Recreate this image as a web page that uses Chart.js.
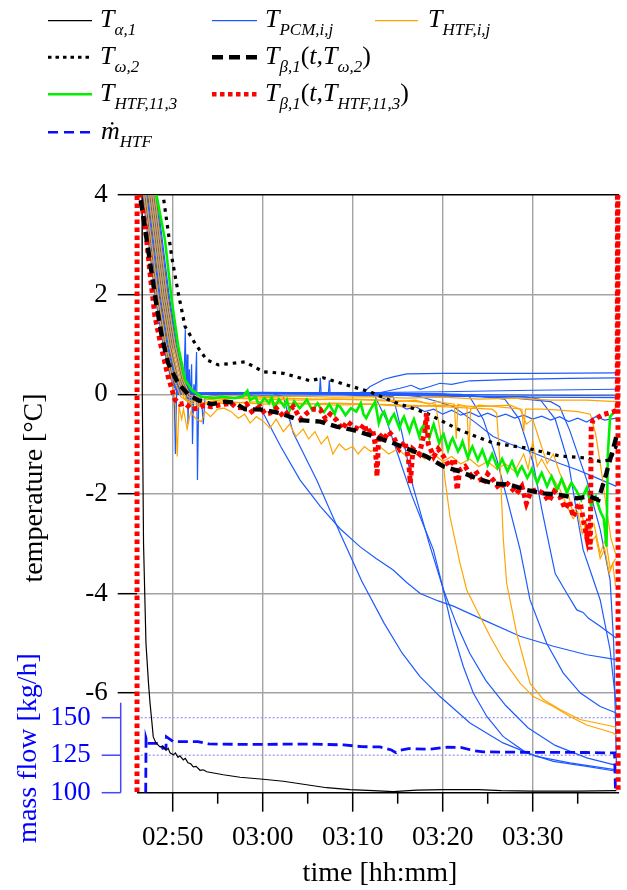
<!DOCTYPE html>
<html>
<head>
<meta charset="utf-8">
<script src="https://cdn.jsdelivr.net/npm/chart.js@4.4.1/dist/chart.umd.min.js"></script>
<style>
  html, body { margin: 0; padding: 0; background: #fff; }
  #wrap { position: relative; width: 627px; height: 890px; overflow: hidden; }
  #chart { position: absolute; left: 0; top: 0; }
  #legend { position: absolute; left: 0; top: 0; }
  #legend text { font-family: "Liberation Serif", serif; font-size: 26px; font-style: italic; fill: #000; }
</style>
</head>
<body>
<div id="wrap">
  <canvas id="chart" width="627" height="890"></canvas>
  <svg id="legend" width="627" height="160" xmlns="http://www.w3.org/2000/svg">
    <line x1="48" y1="20.7" x2="92" y2="20.7" stroke="#000" stroke-width="1.2"/>
    <line x1="48" y1="57.3" x2="92" y2="57.3" stroke="#000" stroke-width="3" stroke-dasharray="3.5 4"/>
    <line x1="48" y1="94.3" x2="92" y2="94.3" stroke="#00f000" stroke-width="2.5"/>
    <line x1="48" y1="132.3" x2="92" y2="132.3" stroke="#0a0aff" stroke-width="2.6" stroke-dasharray="10 6"/>
    <line x1="212" y1="20.7" x2="257" y2="20.7" stroke="#1e5bff" stroke-width="1.2"/>
    <line x1="212" y1="57.3" x2="257" y2="57.3" stroke="#000" stroke-width="4.4" stroke-dasharray="11 6"/>
    <line x1="212" y1="94.3" x2="257" y2="94.3" stroke="#ff0000" stroke-width="4.6" stroke-dasharray="4.5 3.5"/>
    <line x1="375" y1="20.7" x2="418" y2="20.7" stroke="#ffa500" stroke-width="1.2"/>

    <text x="100" y="27">T<tspan dy="8" font-size="17">α,1</tspan></text>
    <text x="100" y="64">T<tspan dy="8" font-size="17">ω,2</tspan></text>
    <text x="100" y="101">T<tspan dy="8" font-size="17">HTF,11,3</tspan></text>
    <text x="101" y="139">ṁ<tspan dy="8" font-size="17">HTF</tspan></text>
    <text x="265" y="27">T<tspan dy="8" font-size="17">PCM,i,j</tspan></text>
    <text x="265" y="64">T<tspan dy="8" font-size="17">β,1</tspan><tspan dy="-8" font-style="normal">(</tspan>t,T<tspan dy="8" font-size="17">ω,2</tspan><tspan dy="-8" font-style="normal">)</tspan></text>
    <text x="265" y="101">T<tspan dy="8" font-size="17">β,1</tspan><tspan dy="-8" font-style="normal">(</tspan>t,T<tspan dy="8" font-size="17">HTF,11,3</tspan><tspan dy="-8" font-style="normal">)</tspan></text>
    <text x="428" y="27">T<tspan dy="8" font-size="17">HTF,i,j</tspan></text>
  </svg>
</div>
<script>
// time in minutes after midnight (170 = 02:50), values in °C or kg/h
const xTicks = [170, 180, 190, 200, 210];
const xMinorTicks = [175, 185, 195, 205, 215];
const yTicks = [-8, -6, -4, -2, 0, 2, 4];
const flowTicks = [100, 125, 150];
const flowGuides = [125, 150];
const flowAxisTop = 160;

const tAlpha1 = [
  [166.55, 5.0], [166.59, 4.0], [166.62, 0.0], [166.76, -3.0], [167.03, -5.0], [167.31, -5.8],
  [167.48, -6.2], [167.67, -6.55], [167.84, -6.88], [168.14, -7.0], [168.59, -7.08], [168.9, -7.06],
  [169.26, -7.15], [169.5, -7.11], [169.7, -7.2], [170.07, -7.24], [170.3, -7.2], [170.59, -7.29],
  [170.8, -7.26], [171.18, -7.34], [171.4, -7.31], [171.7, -7.4], [172.0, -7.42], [172.29, -7.48],
  [172.6, -7.47], [173.03, -7.55], [173.4, -7.54], [173.78, -7.58], [174.7, -7.61], [175.62, -7.64],
  [177.48, -7.69], [180.07, -7.73], [182.29, -7.77], [184.89, -7.84], [187.11, -7.9], [189.7, -7.94],
  [192.29, -7.96], [194.51, -7.98], [197.11, -7.95], [200.0, -7.94], [204.0, -7.94], [206.5, -7.96],
  [210.0, -7.97], [215.0, -7.97], [219.3, -7.96]
];

const massFlow = [
  [167.0, 100], [167.04, 136.3], [167.2, 132.9], [168.5, 132.9], [168.9, 129.6], [169.25, 129.8],
  [169.3, 137.3], [170.1, 134.0], [172.8, 134.0], [174.0, 132.5], [178.0, 132.2], [185.0, 132.4],
  [189.0, 131.9], [191.0, 130.7], [193.0, 130.5], [194.3, 128.5], [194.8, 126.7], [195.3, 128.3],
  [196.2, 129.4], [198.5, 129.0], [200.5, 130.3], [202.0, 130.2], [203.5, 128.0], [204.5, 127.2],
  [210.0, 126.9], [216.0, 126.8], [219.1, 126.5], [219.2, 100]
];

const tOmega2 = [
  [166.3, 9.0], [168.93, 4.0], [169.89, 2.76], [170.62, 2.03], [171.37, 1.36], [172.48, 1.02],
  [173.78, 0.69], [175.07, 0.59], [176.56, 0.62], [178.03, 0.65], [180.1, 0.45], [182.3, 0.42],
  [185.3, 0.27], [186.7, 0.33], [190.0, 0.15], [191.9, 0.05], [194.5, -0.15], [198.2, -0.38],
  [201.9, -0.72], [205.6, -0.98], [209.3, -1.08], [213.0, -1.24], [216.0, -1.28], [217.5, -1.35],
  [218.6, -1.32], [219.4, -1.0]
];

const tBetaOmega = [
  [166.1, 5.5], [166.37, 4.0], [167.36, 2.8], [168.1, 1.9], [168.8, 1.15], [169.5, 0.62],
  [170.6, 0.22], [171.7, 0.0], [172.8, -0.12], [174.3, -0.2], [175.8, -0.15], [176.9, -0.17],
  [178.0, -0.3], [180.1, -0.31], [181.9, -0.38], [184.1, -0.52], [186.4, -0.55], [188.2, -0.65],
  [190.1, -0.72], [191.9, -0.82], [194.5, -0.98], [198.2, -1.25], [200.1, -1.45], [201.9, -1.55],
  [203.8, -1.69], [205.6, -1.79], [207.5, -1.82], [209.3, -1.92], [211.2, -1.99], [213.0, -2.02],
  [214.9, -2.09], [216.3, -2.05], [217.3, -2.12], [218.2, -1.58], [219.3, -0.85]
];

const tBetaHtf = [
  [166.03, -12], [166.05, 12], [166.2, 6.0], [166.37, 4.0], [166.92, 3.43], [167.48, 2.43],
  [168.03, 1.56], [168.8, 0.89], [169.5, 0.35], [170.26, -0.11], [170.8, -0.2], [171.37, -0.18],
  [172.1, -0.3], [172.84, -0.28], [173.5, -0.22], [174.3, -0.25], [175.4, -0.21], [176.5, -0.18],
  [177.0, -0.26], [177.6, -0.27], [178.2, -0.2], [178.8, -0.35], [179.7, -0.25], [180.3, -0.4],
  [180.8, -0.38], [181.5, -0.28], [182.3, -0.45], [183.4, -0.25], [184.2, -0.5], [184.9, -0.38],
  [185.6, -0.3], [186.4, -0.31], [187.0, -0.5], [187.5, -0.4], [188.2, -0.52], [188.8, -0.7],
  [189.4, -0.55], [190.1, -0.65], [190.8, -0.72], [191.3, -0.6], [191.6, -0.78], [192.2, -0.7],
  [192.5, -1.0], [192.7, -1.65], [192.9, -0.8], [193.5, -0.9], [194.0, -0.75], [194.5, -0.85],
  [195.2, -1.1], [195.8, -0.95], [196.2, -1.3], [196.4, -1.79], [196.7, -1.1], [197.4, -1.2],
  [198.0, -0.75], [198.2, -0.38], [198.4, -1.0], [199.0, -1.25], [199.5, -1.1], [200.1, -1.25],
  [200.7, -1.45], [201.3, -1.3], [201.6, -1.92], [201.9, -1.52], [202.5, -1.45], [203.2, -1.65],
  [203.8, -1.58], [204.5, -1.8], [205.0, -1.6], [205.6, -1.72], [206.3, -1.9], [206.9, -1.75],
  [207.5, -1.85], [208.2, -2.0], [208.8, -1.85], [209.3, -2.19], [209.8, -1.95], [210.4, -1.92],
  [211.2, -1.99], [211.8, -2.15], [212.4, -1.95], [213.0, -2.05], [213.6, -2.3], [214.1, -2.15],
  [214.5, -2.46], [215.0, -2.25], [215.3, -2.19], [215.7, -2.6], [216.0, -2.86], [216.2, -2.5],
  [216.4, -3.12], [216.5, -0.65], [216.7, -0.52], [217.8, -0.41], [219.0, -0.35], [219.4, -0.32],
  [219.45, 12], [219.5, -12]
];

const tHtf113 = [
  [167.9, 5.5], [168.2, 4.0], [169.14, 3.1], [169.89, 1.89], [170.62, 0.96], [171.37, 0.29],
  [172.1, 0.09], [173.2, -0.05], [174.5, -0.08], [175.5, -0.05], [176.9, -0.08], [177.8, -0.04],
  [178.3, 0.07], [178.6, -0.12], [179.2, -0.05], [179.6, -0.22], [180.2, -0.08], [180.7, -0.18],
  [181.0, -0.06], [181.3, -0.28], [181.8, -0.1], [182.4, -0.25], [182.7, -0.12], [183.0, -0.32],
  [183.5, -0.14], [184.1, -0.28], [184.5, -0.2], [184.9, -0.11], [185.5, -0.32], [186.1, -0.18],
  [186.5, -0.3], [186.8, -0.36], [187.4, -0.2], [188.0, -0.4], [188.3, -0.22], [188.6, -0.25],
  [189.2, -0.42], [189.8, -0.28], [190.4, -0.35], [190.9, -0.18], [191.2, -0.4], [191.5, -0.48],
  [192.0, -0.3], [192.5, -0.15], [192.9, -0.58], [193.2, -0.42], [193.5, -0.35], [194.0, -0.6],
  [194.3, -0.48], [194.6, -0.4], [195.2, -0.68], [195.5, -0.52], [195.7, -0.45], [196.3, -0.75],
  [196.6, -0.58], [196.8, -0.5], [197.4, -0.85], [197.6, -0.7], [197.9, -0.62], [198.5, -0.88],
  [198.8, -0.7], [199.0, -0.6], [199.6, -0.98], [199.9, -0.85], [200.1, -0.8], [200.6, -1.12],
  [200.9, -0.95], [201.1, -0.88], [201.7, -1.15], [202.0, -1.05], [202.2, -0.95], [202.8, -1.28],
  [203.1, -1.12], [203.3, -1.05], [203.9, -1.32], [204.2, -1.2], [204.4, -1.12], [205.0, -1.42],
  [205.3, -1.28], [205.5, -1.2], [206.1, -1.48], [206.4, -1.38], [206.6, -1.3], [207.2, -1.55],
  [207.5, -1.42], [207.7, -1.35], [208.3, -1.62], [208.6, -1.5], [208.8, -1.45], [209.4, -1.68],
  [209.7, -1.58], [209.9, -1.5], [210.5, -1.78], [210.8, -1.65], [211.0, -1.58], [211.6, -1.85],
  [211.9, -1.72], [212.1, -1.65], [212.7, -1.92], [213.0, -1.8], [213.2, -1.7], [213.8, -1.98],
  [214.1, -1.85], [214.3, -1.78], [214.9, -1.95], [215.4, -2.12], [215.7, -2.0], [216.0, -1.88],
  [216.5, -2.25], [216.8, -2.1], [217.0, -2.05], [217.5, -2.35], [217.9, -2.5], [218.2, -3.06],
  [218.35, -1.2], [218.6, -0.45], [219.3, -0.31]
];

// T_HTF,i,j (orange)
const htf1 = [
  [166.59, 4.3], [168.14, 2.0], [169.03, 1.0], [169.92, 0.3], [170.3, -0.15], [170.5, -1.25],
  [170.7, -0.25], [171.0, -0.5], [171.2, -0.3], [171.6, -0.7], [172.0, -0.35], [172.6, -0.5],
  [173.2, -0.55], [173.6, -0.35], [174.2, -0.45], [175.0, -0.3], [175.7, -0.28], [176.5, -0.35],
  [177.3, -0.48], [178.0, -0.4], [178.6, -0.58], [179.3, -0.45], [180.1, -0.55], [180.8, -0.68],
  [181.5, -0.5], [182.3, -0.75], [183.0, -0.6], [183.7, -0.85], [184.5, -0.7], [185.1, -0.9],
  [185.8, -0.75], [186.5, -1.0], [187.2, -0.85], [187.8, -1.2], [188.5, -1.0], [189.2, -1.12],
  [190.0, -1.05], [190.6, -1.2], [191.3, -1.05], [192.0, -1.15], [193.0, -1.05], [194.0, -1.2],
  [195.0, -1.1], [196.0, -1.25], [197.0, -1.15], [198.0, -1.3], [199.0, -1.2], [200.0, -1.35],
  [201.0, -1.25], [202.0, -1.4], [203.0, -1.3], [204.0, -1.45], [205.0, -1.35], [206.0, -1.5],
  [207.0, -1.4], [208.0, -1.55], [209.0, -1.2], [209.5, -1.5], [210.0, -0.95], [210.5, -1.45],
  [211.0, -1.3], [211.6, -1.5], [212.3, -1.7], [213.0, -1.9], [213.7, -2.2], [214.5, -2.5],
  [215.0, -2.35], [215.5, -2.8], [216.0, -2.6], [216.4, -3.0], [217.0, -2.85], [217.5, -3.3],
  [218.0, -3.1], [218.5, -3.6], [218.9, -3.4], [219.2, -3.85]
];
const htf2 = [
  [166.81, 4.3], [168.37, 2.0], [169.26, 1.0], [170.14, 0.3], [170.9, -0.05], [171.8, -0.15],
  [172.8, -0.22], [174.0, -0.15], [176.0, -0.1], [178.3, -0.05], [182.0, -0.08], [186.0, -0.1],
  [190.0, -0.1], [194.0, -0.12], [197.0, -0.15], [199.2, -0.2], [199.7, -0.72], [200.26, -1.72],
  [200.81, -2.46], [201.92, -3.39], [202.67, -3.93], [203.78, -4.33], [205.26, -4.86], [206.73, -5.33],
  [208.59, -5.8], [210.07, -6.07], [212.29, -6.27], [214.14, -6.47], [216.0, -6.64], [218.96, -6.8],
  [219.3, -6.85]
];
const htf3 = [
  [167.14, 4.3], [168.70, 2.0], [169.59, 1.0], [170.48, 0.3], [171.3, -0.1], [172.5, -0.28],
  [173.5, -0.2], [176.0, -0.18], [180.0, -0.15], [184.0, -0.2], [188.0, -0.18], [192.0, -0.2],
  [196.0, -0.22], [200.0, -0.25], [203.0, -0.28], [205.5, -0.3], [206.0, -0.38], [206.37, -1.39],
  [206.73, -2.9], [207.11, -3.8], [208.22, -4.8], [209.7, -5.8], [211.18, -6.13], [213.03, -6.33],
  [215.26, -6.53], [218.96, -6.67], [219.3, -6.7]
];
const htf4 = [
  [167.37, 4.3], [168.92, 2.0], [169.81, 1.0], [170.70, 0.3], [171.5, -0.1], [173.0, -0.18],
  [176.0, -0.15], [180.0, -0.2], [184.0, -0.18], [188.0, -0.22], [192.0, -0.2], [196.0, -0.25],
  [200.0, -0.22], [204.0, -0.25], [207.5, -0.22], [208.6, -0.3], [209.3, -0.6], [210.0, -0.5],
  [210.8, -0.95], [211.6, -1.39], [212.3, -1.2], [213.0, -1.58], [213.8, -1.9], [214.5, -2.4],
  [215.2, -2.2], [216.0, -2.85], [216.8, -2.6], [217.5, -3.2], [218.1, -2.9], [218.6, -3.5],
  [219.2, -3.3]
];
const htf5 = [
  [167.59, 4.3], [169.14, 2.0], [170.03, 1.0], [170.92, 0.3], [171.7, -0.05], [173.0, -0.12],
  [176.0, -0.08], [180.0, -0.1], [184.0, -0.12], [188.0, -0.1], [192.0, -0.12], [195.0, -0.15],
  [197.0, -0.12], [198.5, -0.2], [199.3, -0.15], [201.3, -0.2], [201.5, -0.9], [201.7, -0.2],
  [202.7, -0.25], [202.9, -1.2], [203.1, -0.3], [204.0, -0.22], [206.0, -0.25], [208.8, -0.3],
  [209.0, -0.75], [209.2, -0.3], [211.0, -0.3], [213.0, -0.32], [215.0, -0.35], [216.4, -0.4],
  [217.0, -0.8], [217.6, -1.5], [218.2, -2.3], [218.7, -2.9], [219.2, -3.2]
];
const htf6 = [
  [167.81, 4.3], [169.37, 2.0], [170.26, 1.0], [171.14, 0.3], [171.9, -0.02], [173.0, -0.05],
  [176.0, -0.03], [180.0, -0.05], [184.0, -0.04], [188.0, -0.06], [192.0, -0.05], [196.0, -0.08],
  [200.0, -0.06], [204.0, -0.1], [208.0, -0.08], [212.0, -0.12], [216.0, -0.12], [219.3, -0.15]
];

// T_PCM,i,j (blue)
const pcm1 = [
  [166.48, 4.3], [168.03, 2.0], [168.92, 1.0], [169.81, 0.3], [170.59, 0.0], [172.0, 0.03],
  [175.0, 0.02], [178.0, 0.03], [179.1, -0.05], [180.07, -0.38], [182.0, -1.05], [184.14, -1.72],
  [186.4, -2.25], [188.6, -2.7], [190.8, -3.06], [192.6, -3.3], [194.5, -3.53], [196.0, -3.78],
  [197.5, -4.0], [199.5, -4.15], [201.25, -4.26], [204.9, -4.56], [208.6, -4.86], [212.3, -5.06],
  [216.0, -5.23], [219.3, -5.33]
];
const pcm2 = [
  [166.70, 4.3], [168.26, 2.0], [169.14, 1.0], [170.03, 0.3], [170.81, 0.0], [173.0, 0.03],
  [177.0, 0.02], [181.0, 0.02], [182.3, -0.05], [183.4, -0.78], [186.0, -1.72], [188.5, -2.75],
  [191.0, -3.75], [193.5, -4.6], [195.5, -5.2], [197.48, -5.67], [199.7, -6.07], [203.03, -6.6],
  [206.7, -7.0], [210.4, -7.27], [214.14, -7.4], [219.3, -7.54]
];
const pcm3 = [
  [166.92, 4.3], [168.48, 2.0], [169.37, 1.0], [170.26, 0.3], [171.03, 0.0], [174.0, 0.03],
  [180.0, 0.04], [186.0, 0.03], [192.5, -0.05], [193.7, -0.5], [195.0, -1.2], [196.5, -2.0],
  [197.8, -2.6], [198.96, -3.12], [199.9, -3.8], [201.18, -4.8], [202.3, -5.47], [203.4, -6.0],
  [204.9, -6.47], [206.7, -6.87], [209.3, -7.2], [212.3, -7.37], [216.0, -7.47], [219.3, -7.57]
];
const pcm4 = [
  [167.14, 4.3], [168.70, 2.0], [169.59, 1.0], [170.48, 0.3], [171.26, 0.0], [175.0, 0.02],
  [182.0, 0.03], [189.0, 0.02], [194.5, -0.05], [195.5, -0.8], [196.7, -1.85], [198.5, -3.0],
  [200.1, -3.93], [201.5, -4.6], [203.0, -5.2], [204.8, -5.75], [207.0, -6.25], [209.5, -6.7],
  [212.5, -7.05], [216.0, -7.3], [219.3, -7.45]
];
const pcm5 = [
  [167.37, 4.3], [168.92, 2.0], [169.81, 1.0], [170.70, 0.3], [171.48, 0.0], [176.0, 0.03],
  [184.0, 0.02], [192.0, 0.03], [200.0, 0.01], [203.0, -0.05], [204.5, -0.5], [206.0, -1.3],
  [207.3, -2.2], [208.6, -3.12], [209.7, -4.13], [211.55, -5.0], [213.4, -5.6], [215.3, -6.0],
  [217.5, -6.27], [219.3, -6.4]
];
const pcm6 = [
  [167.59, 4.3], [169.14, 2.0], [170.03, 1.0], [170.92, 0.3], [171.70, 0.0], [178.0, 0.02],
  [186.0, 0.03], [194.0, 0.02], [202.0, 0.0], [206.9, -0.1], [208.5, -0.5], [210.07, -1.39],
  [211.0, -2.3], [211.8, -3.0], [212.5, -3.6], [213.8, -4.0], [214.9, -4.33], [215.6, -4.38],
  [216.2, -4.5], [217.5, -4.66], [219.3, -4.9]
];
const pcm7 = [
  [167.81, 4.3], [169.37, 2.0], [170.26, 1.0], [171.14, 0.3], [171.92, 0.0], [180.0, 0.02],
  [190.0, 0.01], [200.0, -0.02], [208.0, -0.08], [212.0, -0.15], [213.0, -0.25], [214.1, -0.72],
  [216.0, -1.72], [217.5, -2.72], [218.6, -3.73], [219.0, -5.0], [219.3, -7.4]
];
const pcm8 = [
  [168.03, 4.3], [169.59, 2.0], [170.48, 1.0], [171.37, 0.3], [172.14, 0.0], [182.0, 0.02],
  [192.0, 0.0], [202.0, -0.03], [209.0, -0.05], [210.8, -0.1], [212.5, -0.5], [214.0, -1.4],
  [215.0, -2.5], [215.6, -3.12], [216.5, -3.6], [217.5, -4.13], [218.6, -5.13], [219.3, -6.3]
];
const pcm9 = [
  [166.59, 4.3], [168.14, 2.0], [169.03, 1.0], [169.92, 0.3], [170.70, 0.0], [175.0, 0.03],
  [185.0, 0.02], [195.0, 0.0], [197.5, -0.05], [199.5, -0.15], [201.2, -0.25], [203.5, -0.55],
  [205.6, -0.85], [207.5, -1.0], [209.3, -1.12], [211.2, -1.26], [213.0, -1.39], [215.0, -1.52],
  [216.7, -1.65], [219.3, -1.85]
];
const pcm10 = [
  [166.81, 4.3], [168.37, 2.0], [169.26, 1.0], [170.14, 0.3], [170.92, 0.0], [175.0, 0.02],
  [182.0, 0.03], [189.0, 0.01], [193.0, -0.05], [195.0, -0.2], [196.0, -0.3], [197.0, -0.25],
  [198.0, -0.35], [199.0, -0.3], [200.0, -0.4], [201.0, -0.32], [202.0, -0.42], [203.0, -0.36],
  [204.0, -0.45], [205.0, -0.38], [206.0, -0.46], [207.0, -0.4], [208.0, -0.48], [209.0, -0.42],
  [210.0, -0.5], [211.0, -0.44], [212.0, -0.52], [213.0, -0.45], [214.0, -0.55], [215.0, -0.48],
  [216.0, -0.56], [217.0, -0.45], [218.0, -0.52], [219.3, -0.48]
];
const pcm11 = [
  [167.03, 4.3], [168.59, 2.0], [169.48, 1.0], [170.37, 0.3], [171.14, 0.0], [176.0, 0.03],
  [184.0, 0.02], [190.5, 0.03], [191.3, 0.05], [191.9, 0.15], [193.5, 0.3], [194.5, 0.35],
  [196.0, 0.41], [200.0, 0.42], [210.0, 0.42], [219.3, 0.43]
];
const pcm12 = [
  [167.26, 4.3], [168.81, 2.0], [169.70, 1.0], [170.59, 0.3], [171.37, 0.0], [178.0, 0.02],
  [186.0, 0.03], [193.0, 0.03], [195.26, 0.12], [196.5, 0.18], [197.5, 0.1], [198.5, 0.15],
  [199.7, 0.22], [201.0, 0.2], [203.0, 0.27], [208.0, 0.3], [214.0, 0.32], [219.3, 0.33]
];
const pcm13 = [
  [167.48, 4.3], [169.03, 2.0], [169.92, 1.0], [170.2, -0.3], [170.3, -1.2], [170.45, 0.1],
  [170.81, 0.3], [171.59, 0.0], [180.0, 0.02], [190.0, 0.03], [200.0, 0.05], [210.0, 0.08],
  [219.3, 0.1]
];
const pcm14 = [
  [167.70, 4.3], [169.26, 2.0], [170.14, 1.0], [171.03, 0.3], [171.81, 0.0], [180.0, -0.02],
  [190.0, -0.01], [200.0, -0.04], [210.0, -0.06], [219.3, -0.07]
];
const pcm15 = [
  [167.92, 4.3], [169.48, 2.0], [170.37, 1.0], [171.26, 0.3], [171.4, 1.3], [171.5, -0.1],
  [171.6, 0.8], [171.7, -0.6], [171.85, 0.5], [171.95, -0.2], [172.1, 0.6], [172.2, -1.0],
  [172.35, 0.2], [172.5, 0.0], [172.65, 0.85], [172.75, -1.72], [172.9, 0.0], [173.2, -0.1],
  [173.4, -0.6], [173.6, -0.05], [176.0, 0.0], [180.0, 0.02], [186.3, 0.0], [186.4, 0.33],
  [186.5, 0.0], [187.3, 0.01], [187.4, 0.28], [187.5, 0.0], [192.0, 0.01], [200.0, 0.0],
  [210.0, -0.02], [219.3, -0.03]
];

const pcmSeries = [pcm1, pcm2, pcm3, pcm4, pcm5, pcm6, pcm7, pcm8, pcm9, pcm10, pcm11, pcm12, pcm13, pcm14, pcm15];
const htfSeries = [htf1, htf2, htf3, htf4, htf5, htf6];

const SERIF = '"Liberation Serif", "Times New Roman", serif';
const GRID = '#a3a3a3';

const toXY = pts => pts.map(p => ({ x: p[0], y: p[1] }));
const hhmm = v => {
    const h = Math.floor(v / 60);
    const m = Math.round(v - h * 60);
    return String(h).padStart(2, '0') + ':' + String(m).padStart(2, '0');
};

function line(pts, color, width, dash, axis) {
    return {
        data: toXY(pts),
        borderColor: color,
        borderWidth: width,
        borderDash: dash || [],
        borderCapStyle: 'butt',
        borderJoinStyle: 'miter',
        pointRadius: 0,
        tension: 0,
        fill: false,
        yAxisID: axis || 'y'
    };
}

// the red model curve runs along both plot edges, let it show its full width there
const redSet = line(tBetaHtf, '#ff0000', 5, [4.5, 3.5]);
redSet.clip = { left: 6, right: 6, top: 0, bottom: 0 };

const datasets = [
    line(tBetaOmega, '#000000', 4.4, [10, 6]),
    redSet,
    line(tOmega2, '#000000', 3.2, [3.5, 5]),
    line(tHtf113, '#00f000', 2.6),
    line(tAlpha1, '#000000', 1.2),
    line(massFlow, '#0a0aff', 2.8, [10, 5], 'yFlow'),
    ...htfSeries.map(s => line(s, '#ffa500', 1.2)),
    ...pcmSeries.map(s => line(s, '#1e5bff', 1.2))
];

// extra axis parts: minor time ticks, mass flow axis, guides, titles
const decor = {
    id: 'decor',
    beforeDatasetsDraw(chart) {
        const { ctx, chartArea: a } = chart;
        const yf = chart.scales.yFlow;
        ctx.save();
        ctx.strokeStyle = '#8f8fff';
        ctx.lineWidth = 1.2;
        ctx.setLineDash([2, 2]);
        flowGuides.forEach(v => {
            const y = yf.getPixelForValue(v);
            ctx.beginPath();
            ctx.moveTo(a.left, y);
            ctx.lineTo(a.right, y);
            ctx.stroke();
        });
        ctx.restore();
    },
    afterDraw(chart) {
        const { ctx, chartArea: a } = chart;
        const xs = chart.scales.x;
        const yf = chart.scales.yFlow;
        ctx.save();

        ctx.strokeStyle = '#000';
        ctx.lineWidth = 1.5;
        xMinorTicks.forEach(v => {
            const x = xs.getPixelForValue(v);
            ctx.beginPath();
            ctx.moveTo(x, a.bottom);
            ctx.lineTo(x, a.bottom + 11);
            ctx.stroke();
        });

        const ax = a.left - 16;
        ctx.strokeStyle = '#4646ff';
        ctx.beginPath();
        ctx.moveTo(ax, yf.getPixelForValue(flowAxisTop));
        ctx.lineTo(ax, yf.getPixelForValue(flowTicks[0]));
        ctx.stroke();
        ctx.font = '27px ' + SERIF;
        ctx.fillStyle = '#0000ff';
        ctx.textAlign = 'right';
        ctx.textBaseline = 'middle';
        flowTicks.forEach(v => {
            const y = yf.getPixelForValue(v);
            ctx.beginPath();
            ctx.moveTo(ax - 19, y);
            ctx.lineTo(ax, y);
            ctx.stroke();
            ctx.fillText(String(v), a.left - 46, y);
        });

        ctx.font = '28px ' + SERIF;
        ctx.textAlign = 'center';
        ctx.textBaseline = 'alphabetic';
        ctx.fillStyle = '#000';
        ctx.fillText('time [hh:mm]', 380, 881);

        ctx.translate(42, 488);
        ctx.rotate(-Math.PI / 2);
        ctx.fillText('temperature [°C]', 0, 0);
        ctx.rotate(Math.PI / 2);
        ctx.translate(-42, -488);

        ctx.fillStyle = '#0000ff';
        ctx.translate(36, 748);
        ctx.rotate(-Math.PI / 2);
        ctx.fillText('mass flow [kg/h]', 0, 0);
        ctx.restore();
    }
};

new Chart(document.getElementById('chart'), {
    type: 'line',
    data: { datasets },
    plugins: [decor],
    options: {
        responsive: false,
        animation: false,
        devicePixelRatio: 1,
        events: [],
        layout: { padding: { top: 195, right: 7.9, left: 0, bottom: 0 } },
        plugins: { legend: { display: false }, tooltip: { enabled: false } },
        scales: {
            x: {
                type: 'linear',
                min: 166,
                max: 219.6,
                afterBuildTicks: s => { s.ticks = xTicks.map(v => ({ value: v })); },
                afterFit: s => { s.height = 97.3; },
                grid: { color: GRID, lineWidth: 1.4, tickLength: 19, tickColor: '#000', tickWidth: 1.5 },
                border: { display: false },
                ticks: {
                    autoSkip: false, maxRotation: 0, padding: 10, color: '#000',
                    font: { family: SERIF, size: 27 },
                    callback: v => hhmm(v)
                }
            },
            y: {
                type: 'linear',
                min: -8,
                max: 4,
                afterBuildTicks: s => { s.ticks = yTicks.map(v => ({ value: v })); },
                afterFit: s => { s.width = 136.7; },
                grid: {
                    color: c => (c.tick && (c.tick.value === 4 || c.tick.value === -8)) ? '#000' : GRID,
                    lineWidth: 1.4,
                    tickLength: 19,
                    tickWidth: 1.5,
                    tickColor: c => (c.tick && c.tick.value === -8) ? 'rgba(0,0,0,0)' : '#000'
                },
                border: { display: false },
                ticks: {
                    autoSkip: false, padding: 10, color: '#000',
                    font: { family: SERIF, size: 27 },
                    callback: v => (v === -8 ? '' : String(v))
                }
            },
            yFlow: {
                type: 'linear',
                display: false,
                min: 100,
                max: 498.5
            }
        }
    }
});
</script>
</body>
</html>
